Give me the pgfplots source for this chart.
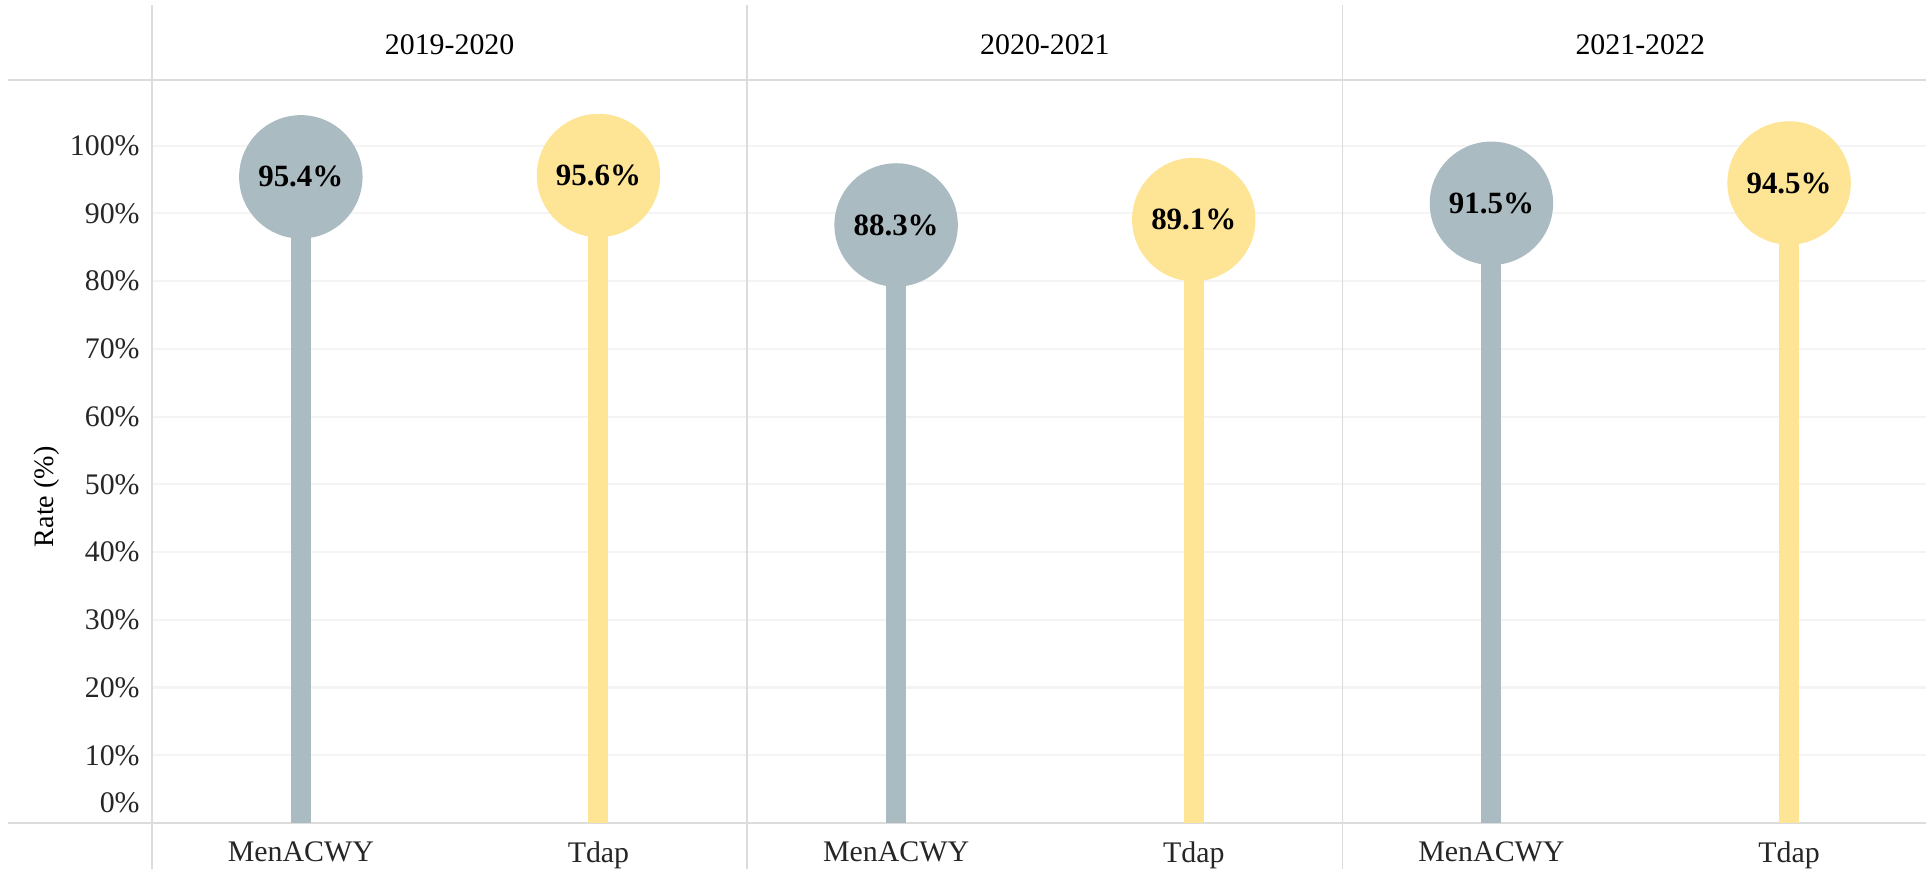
\documentclass[border=0pt]{standalone}
\usepackage{pgfplots}
\pgfplotsset{compat=1.18}
\usepackage{fontspec}
\setmainfont{Liberation Serif}

\definecolor{menc}{HTML}{ABBBC2}
\definecolor{tdapc}{HTML}{FEE495}
\definecolor{divc}{HTML}{DCDCDC}
\definecolor{gridc}{HTML}{F4F4F4}

\begin{document}
\begin{tikzpicture}
\useasboundingbox (-1.52cm,-0.46cm) rectangle (17.74cm,8.23cm);
\begin{axis}[
    scale only axis, width=17.74cm, height=7.43cm,
    xmin=0, xmax=5.96, ymin=0, ymax=109.7,
    axis line style={draw=none},
    clip=false,
    major tick length=0pt,
    xtick={0.5,1.5,2.5,3.5,4.5,5.5},
    xticklabels={MenACWY,Tdap,MenACWY,Tdap,MenACWY,Tdap},
    xticklabel style={yshift=-0.06cm},
    ytick={10,20,...,100},
    yticklabel={\pgfmathprintnumber{\tick}\%},
    /pgf/number format/assume math mode=true,
    extra y ticks={0},
    extra y tick style={yticklabel style={yshift=0.2cm}, grid=none},
    ymajorgrids,
    major grid style={gridc, line width=0.6pt},
    ticklabel style={font=\fontsize{8.5}{10}\selectfont, text=black!85},
    ylabel={Rate (\%)},
    ylabel style={at={(rel axis cs:-0.0592,0.439)}, anchor=center, font=\fontsize{8}{10}\selectfont},
]
\draw[divc, line width=0.5pt] (axis cs:0,-6.8) -- (axis cs:0,120.7);
\draw[divc, line width=0.5pt] (axis cs:2,-6.8) -- (axis cs:2,120.7);
\draw[divc, line width=0.5pt] (axis cs:4,-6.8) -- (axis cs:4,120.7);
\draw[divc, line width=0.75pt] (axis cs:-0.484,109.7) -- (axis cs:5.96,109.7);
\draw[divc, line width=0.75pt] (axis cs:-0.484,0) -- (axis cs:5.96,0);

\node[font=\fontsize{8.5}{10}\selectfont] at (axis cs:1,114.9) {2019-2020};
\node[font=\fontsize{8.5}{10}\selectfont] at (axis cs:3,114.9) {2020-2021};
\node[font=\fontsize{8.5}{10}\selectfont] at (axis cs:5,114.9) {2021-2022};

% stems
\addplot[ycomb, menc, line width=2mm] coordinates {(0.5,95.4) (2.5,88.3) (4.5,91.5)};
\addplot[ycomb, tdapc, line width=2mm] coordinates {(1.5,95.6) (3.5,89.1) (5.5,94.5)};

% heads with labels
\addplot[only marks, mark=*, mark size=6.1mm, menc, point meta=y,
    nodes near coords={\pgfmathprintnumber[fixed,precision=1,fixed zerofill]{\pgfplotspointmeta}\%},
    nodes near coords style={anchor=center, text=black, font=\bfseries\fontsize{8.8}{10}\selectfont}]
    coordinates {(0.5,95.4) (2.5,88.3) (4.5,91.5)};
\addplot[only marks, mark=*, mark size=6.1mm, tdapc, point meta=y,
    nodes near coords={\pgfmathprintnumber[fixed,precision=1,fixed zerofill]{\pgfplotspointmeta}\%},
    nodes near coords style={anchor=center, text=black, font=\bfseries\fontsize{8.8}{10}\selectfont}]
    coordinates {(1.5,95.6) (3.5,89.1) (5.5,94.5)};
\end{axis}
\end{tikzpicture}
\end{document}
